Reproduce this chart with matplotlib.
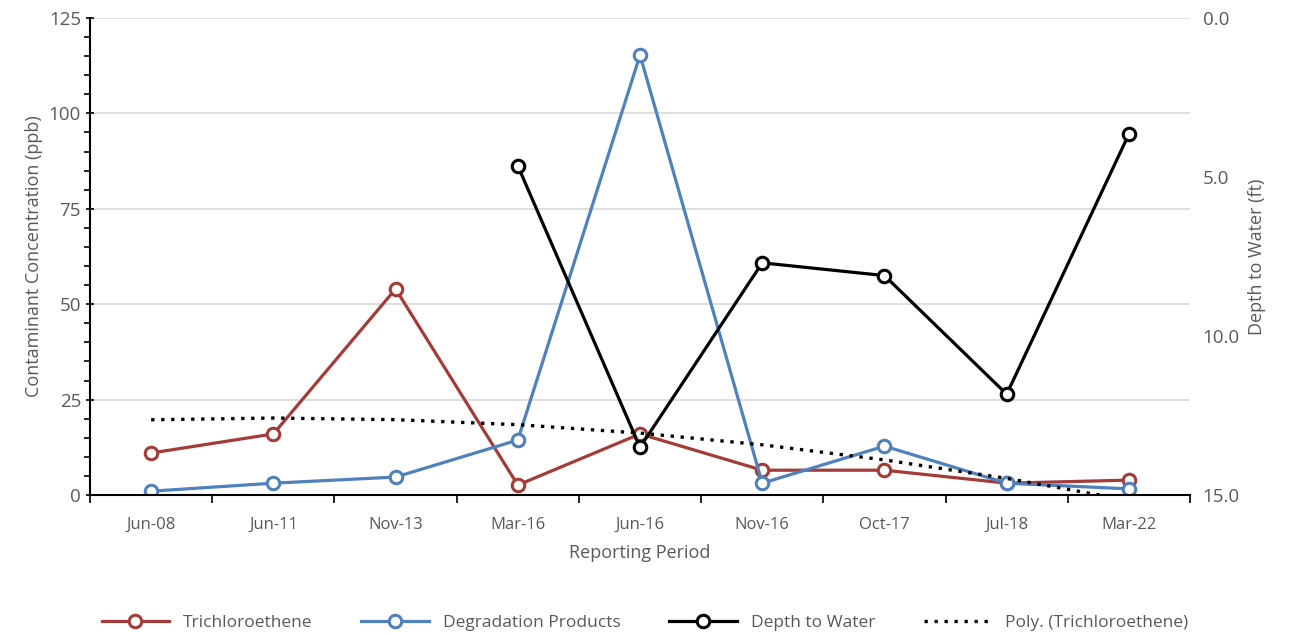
import numpy as np
import matplotlib
matplotlib.use("Agg")
import matplotlib.pyplot as plt
from matplotlib.ticker import MultipleLocator, FormatStrFormatter

plt.rcParams['font.family'] = ['Open Sans', 'DejaVu Sans']

periods = ["Jun-08", "Jun-11", "Nov-13", "Mar-16", "Jun-16", "Nov-16", "Oct-17", "Jul-18", "Mar-22"]
tce = [11.0, 16.0, 54.0, 2.6, 16.0, 6.5, 6.5, 3.1, 3.9]
degradation = [1.0, 3.1, 4.7, 14.4, 115.3, 3.1, 12.8, 3.1, 1.6]
depth = [np.nan, np.nan, np.nan, 4.65, 13.5, 7.7, 8.1, 11.83, 3.65]

red = "#A33B39"
blue = "#4F81BD"
gray = "#595959"

x = np.arange(len(periods))

fig = plt.figure(figsize=(12.9, 6.36), dpi=100)
ax = fig.add_axes([0.0698, 0.2217, 0.8527, 0.75])
ax2 = ax.twinx()

# excel style quadratic trendline for TCE
coef = np.polyfit(x + 1, tce, 2)
trend = np.polyval(coef, x + 1)

mk = dict(marker="o", markersize=9, markerfacecolor="white", markeredgewidth=2.2)
l1, = ax.plot(x, tce, color=red, lw=2.3, label="Trichloroethene", markeredgecolor=red, **mk)
l2, = ax.plot(x, degradation, color=blue, lw=2.3, label="Degradation Products", markeredgecolor=blue, **mk)
l4, = ax.plot(x, trend, color="black", lw=2.4, ls=(0, (1, 2)), label="Poly. (Trichloroethene)")
l3, = ax2.plot(x, depth, color="black", lw=2.3, label="Depth to Water", markeredgecolor="black", **mk)

ax.set_xlim(-0.5, len(periods) - 0.5)
ax.set_ylim(0, 125)
ax2.set_ylim(15, 0)

ax.yaxis.set_major_locator(MultipleLocator(25))
ax.yaxis.set_minor_locator(MultipleLocator(5))
ax.grid(axis="y", color="#D9D9D9", lw=1.2)
ax.set_axisbelow(True)

ax.set_xticks(x)
ax.set_xticklabels(periods)
ax.set_xticks(np.arange(-0.5, len(periods)), minor=True)
ax.tick_params(axis="x", which="major", length=0, pad=16, labelsize=12, labelcolor=gray)
ax.tick_params(axis="x", which="minor", length=6, width=1.2, direction="out")
ax.tick_params(axis="y", which="major", length=6, width=1.2, direction="inout", labelsize=13.5, labelcolor=gray)
ax.tick_params(axis="y", which="minor", length=4, width=1.2, direction="out")

ax2.yaxis.set_major_locator(MultipleLocator(5))
ax2.yaxis.set_major_formatter(FormatStrFormatter("%.1f"))
ax2.tick_params(axis="y", length=0, pad=9, labelsize=13.5, labelcolor=gray)

for a in (ax, ax2):
    a.spines["top"].set_visible(False)
    a.spines["right"].set_visible(False)
ax2.spines["left"].set_visible(False)
ax2.spines["bottom"].set_visible(False)
ax.spines["left"].set_linewidth(1.5)
ax.spines["bottom"].set_linewidth(1.5)

ax.set_xlabel("Reporting Period", color=gray, fontsize=13, labelpad=8)
ax.set_ylabel("Contaminant Concentration (ppb)", color=gray, fontsize=13, labelpad=4)
ax2.set_ylabel("Depth to Water (ft)", color=gray, fontsize=13, labelpad=6)

fig.legend([l1, l2, l3, l4], [h.get_label() for h in (l1, l2, l3, l4)],
           loc="center", bbox_to_anchor=(0.50, 0.02), ncol=4, frameon=False,
           fontsize=12.5, labelcolor=gray, handlelength=3.9, columnspacing=2.8, numpoints=1)

fig.savefig("out.png", dpi=100)
